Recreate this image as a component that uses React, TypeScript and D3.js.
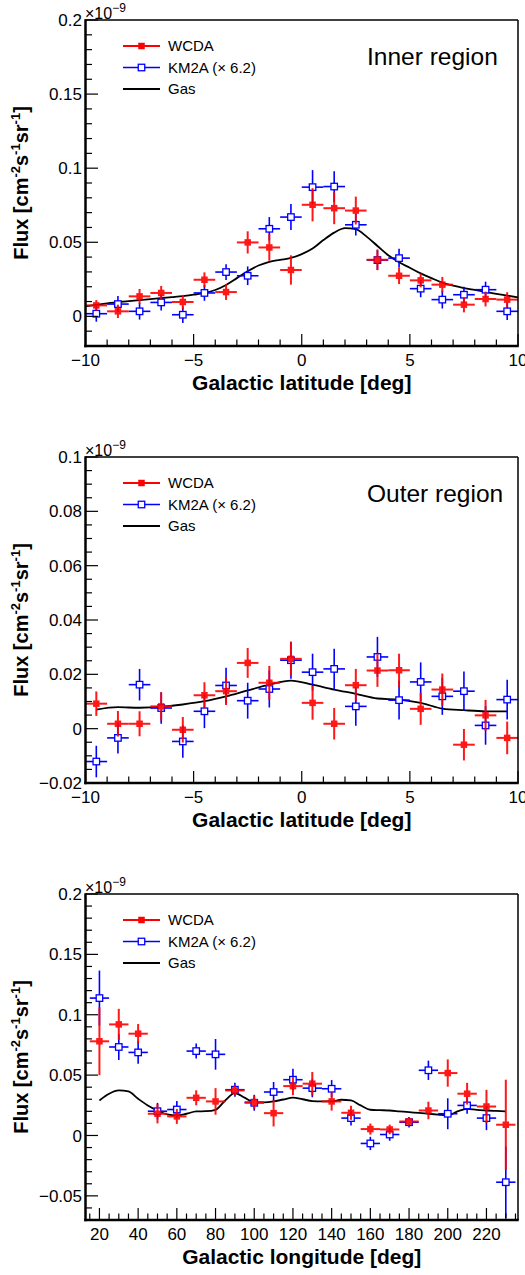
import React from 'react';
import * as d3 from 'd3';

const FONT = "'Liberation Sans', Arial, Helvetica, sans-serif";
const W = 525;
const H = 1275;

// ---------- Data ----------
const latCenters = [-9.5, -8.5, -7.5, -6.5, -5.5, -4.5, -3.5, -2.5, -1.5, -0.5, 0.5, 1.5, 2.5, 3.5, 4.5, 5.5, 6.5, 7.5, 8.5, 9.5];

const innerWcda = [0.0074, 0.0034, 0.0135, 0.0158, 0.0097, 0.0247, 0.0164, 0.0499, 0.0465, 0.0313, 0.0753, 0.073, 0.0714, 0.0382, 0.0274, 0.0243, 0.0214, 0.0079, 0.0117, 0.0113];
const innerWcdaErr = [0.0036, 0.0045, 0.005, 0.0047, 0.0048, 0.005, 0.0053, 0.0075, 0.009, 0.0099, 0.0112, 0.0108, 0.0094, 0.007, 0.0056, 0.0047, 0.0052, 0.0052, 0.005, 0.005];
const innerKm2a = [0.0018, 0.0083, 0.0034, 0.0094, 0.0011, 0.0158, 0.0299, 0.0274, 0.0591, 0.067, 0.0872, 0.0876, 0.0618, 0.038, 0.0393, 0.0187, 0.0113, 0.0146, 0.018, 0.0034];
const innerKm2aErr = [0.0054, 0.0054, 0.0056, 0.0054, 0.0056, 0.0053, 0.0053, 0.0063, 0.0079, 0.0088, 0.0115, 0.0104, 0.0073, 0.0066, 0.0064, 0.0058, 0.006, 0.0054, 0.0054, 0.0058];
const innerGasX = [-10, -9, -8, -7, -6, -5.5, -5, -4.5, -4, -3.5, -3, -2.5, -2, -1.5, -1, -0.5, 0, 0.5, 1, 1.5, 2, 2.5, 3, 3.5, 4, 4.5, 5, 5.5, 6, 6.5, 7, 7.5, 8, 8.5, 9, 9.5, 10];
const innerGas = [0.0067, 0.0088, 0.0103, 0.0117, 0.013, 0.0137, 0.0146, 0.0158, 0.0178, 0.0212, 0.0258, 0.0305, 0.0343, 0.0368, 0.0381, 0.0394, 0.042, 0.0458, 0.0515, 0.0565, 0.0596, 0.0588, 0.0538, 0.0475, 0.0412, 0.0365, 0.0328, 0.029, 0.0258, 0.0228, 0.0207, 0.0191, 0.0178, 0.0165, 0.0152, 0.014, 0.0128];

const outerWcda = [0.0092, 0.0018, 0.0018, 0.0082, -0.0004, 0.0123, 0.0138, 0.0242, 0.0169, 0.0257, 0.0095, 0.0018, 0.016, 0.0214, 0.0215, 0.0073, 0.0144, -0.0059, 0.0049, -0.0034];
const outerWcdaErr = [0.0045, 0.0047, 0.0046, 0.0052, 0.0047, 0.0048, 0.0051, 0.0055, 0.0062, 0.0063, 0.0062, 0.0058, 0.006, 0.006, 0.0061, 0.0059, 0.0059, 0.0058, 0.0057, 0.006];
const outerKm2a = [-0.0121, -0.0034, 0.0162, 0.0076, -0.0047, 0.0064, 0.0159, 0.0103, 0.0146, 0.0252, 0.0208, 0.022, 0.0082, 0.0264, 0.0105, 0.0172, 0.0119, 0.0138, 0.0012, 0.0107];
const outerKm2aErr = [0.0058, 0.0057, 0.0058, 0.0058, 0.006, 0.0062, 0.0065, 0.0066, 0.0068, 0.0068, 0.0068, 0.0074, 0.0071, 0.0074, 0.0071, 0.0072, 0.0068, 0.0072, 0.0071, 0.0073];
const outerGas = [0.007, 0.0079, 0.0077, 0.008, 0.0089, 0.0101, 0.0119, 0.0141, 0.0162, 0.0177, 0.0162, 0.0144, 0.0128, 0.0111, 0.0107, 0.0095, 0.0074, 0.0068, 0.0064, 0.0064];

const lonCenters = [20, 30, 40, 50, 60, 70, 80, 90, 100, 110, 120, 130, 140, 150, 160, 170, 180, 190, 200, 210, 220, 230];
const lonWcda = [0.078, 0.092, 0.0843, 0.018, 0.0158, 0.0312, 0.0282, 0.0373, 0.0276, 0.0185, 0.0409, 0.0429, 0.0282, 0.0188, 0.0053, 0.005, 0.0116, 0.0207, 0.0517, 0.0346, 0.024, 0.0089];
const lonWcdaErr = [0.028, 0.0129, 0.008, 0.008, 0.0062, 0.0062, 0.011, 0.0045, 0.0055, 0.011, 0.0075, 0.0097, 0.0076, 0.0058, 0.0046, 0.004, 0.0035, 0.0073, 0.0113, 0.009, 0.0138, 0.0373];
const lonKm2a = [0.1138, 0.0733, 0.0688, 0.0201, 0.0215, 0.0699, 0.0672, 0.0379, 0.0271, 0.036, 0.0462, 0.0392, 0.0387, 0.0144, -0.0066, 0.0008, 0.011, 0.054, 0.018, 0.0249, 0.0144, -0.0387];
const lonKm2aErr = [0.0228, 0.0108, 0.0094, 0.0069, 0.007, 0.0062, 0.0127, 0.0058, 0.0066, 0.0083, 0.009, 0.0075, 0.0072, 0.0062, 0.0055, 0.0052, 0.0044, 0.008, 0.0128, 0.0069, 0.01, 0.0296];
const lonGasX = [20, 25, 30, 35, 40, 45, 50, 55, 60, 65, 70, 75, 80, 85, 90, 95, 100, 105, 110, 115, 120, 125, 130, 135, 140, 145, 150, 155, 160, 165, 170, 175, 180, 185, 190, 195, 200, 205, 210, 215, 220, 225, 230];
const lonGas = [0.029, 0.0346, 0.0373, 0.0365, 0.0304, 0.0249, 0.0207, 0.0174, 0.0166, 0.018, 0.0199, 0.0201, 0.0213, 0.029, 0.0351, 0.0313, 0.0276, 0.0275, 0.0282, 0.0298, 0.0313, 0.03, 0.0285, 0.0282, 0.0282, 0.0296, 0.029, 0.0249, 0.0213, 0.021, 0.0207, 0.02, 0.0193, 0.0187, 0.018, 0.0173, 0.0166, 0.0199, 0.0221, 0.0212, 0.0207, 0.0203, 0.0199];

// Tick values
const latMajor = [-10, -5, 0, 5, 10];
const lonMajor = [20, 40, 60, 80, 100, 120, 140, 160, 180, 200, 220];
const innerYMajor = [0, 0.05, 0.1, 0.15, 0.2];
const outerYMajor = [-0.02, 0, 0.02, 0.04, 0.06, 0.08, 0.1];
const lonYMajor = [-0.05, 0, 0.05, 0.1, 0.15, 0.2];

const legendLabels = ['WCDA', 'KM2A (× 6.2)', 'Gas'];

const RED = '#ff0000';
const BLUE = '#0000ff';

const fmt = (v: number) => {
  const s = String(+v.toFixed(3));
  return s.startsWith('-') ? '\u2212' + s.slice(1) : s;
};

type PanelProps = {
  top: number;
  xDomain: [number, number];
  yDomain: [number, number];
  xMajor: number[];
  xMinorStep: number;
  yMajor: number[];
  yMinorStep: number;
  xs: number[];
  xErr: number;
  wcda: number[];
  wcdaErr: number[];
  km2a: number[];
  km2aErr: number[];
  gasX: number[];
  gas: number[];
  region?: string;
  xTitle: string;
};

function Panel(p: PanelProps) {
  const left = 85.5;
  const right = 518;
  const top = p.top;
  const bottom = top + 326;
  const x = d3.scaleLinear().domain(p.xDomain).range([left, right]);
  const y = d3.scaleLinear().domain(p.yDomain).range([bottom, top]);

  const xMinor = d3.range(Math.ceil(p.xDomain[0] / p.xMinorStep) * p.xMinorStep, p.xDomain[1] + 1e-9, p.xMinorStep);
  const yMinor = d3.range(Math.ceil(p.yDomain[0] / p.yMinorStep - 1e-9) * p.yMinorStep, p.yDomain[1] + 1e-9, p.yMinorStep);
  const isMajor = (v: number, arr: number[]) => arr.some((m) => Math.abs(m - v) < 1e-6);

  const gasLine = d3
    .line<number>()
    .x((_, i) => x(p.gasX[i]))
    .y((d) => y(d))
    .curve(d3.curveMonotoneX);

  const ms = 6.5;
  const legRows = [top + 26, top + 47.5, top + 69];

  return (
    <g>
      {/* gas line */}
      <path d={gasLine(p.gas) || ''} fill="none" stroke="#000" strokeWidth={1.8} />
      {/* KM2A */}
      {p.xs.map((xv, i) => (
        <g key={'k' + i} stroke={BLUE} strokeWidth={1.6}>
          <line x1={x(xv - p.xErr)} x2={x(xv + p.xErr)} y1={y(p.km2a[i])} y2={y(p.km2a[i])} />
          <line x1={x(xv)} x2={x(xv)} y1={y(p.km2a[i] - p.km2aErr[i])} y2={y(p.km2a[i] + p.km2aErr[i])} />
          <rect x={x(xv) - ms / 2} y={y(p.km2a[i]) - ms / 2} width={ms} height={ms} fill="#fff" strokeWidth={1.3} />
        </g>
      ))}
      {/* WCDA */}
      {p.xs.map((xv, i) => (
        <g key={'w' + i} stroke={RED} strokeWidth={2} opacity={0.9}>
          <line x1={x(xv - p.xErr)} x2={x(xv + p.xErr)} y1={y(p.wcda[i])} y2={y(p.wcda[i])} />
          <line x1={x(xv)} x2={x(xv)} y1={y(p.wcda[i] - p.wcdaErr[i])} y2={y(p.wcda[i] + p.wcdaErr[i])} />
          <rect x={x(xv) - ms / 2} y={y(p.wcda[i]) - ms / 2} width={ms} height={ms} fill={RED} stroke="none" />
        </g>
      ))}

      {/* frame */}
      <line x1={left} x2={right} y1={top} y2={top} stroke="#000" strokeWidth={1.5} />
      <line x1={right} x2={right} y1={top} y2={bottom} stroke="#000" strokeWidth={1.5} />
      <line x1={left} x2={left} y1={top - 0.75} y2={bottom + 1.25} stroke="#000" strokeWidth={2.5} />
      <line x1={left - 1.25} x2={right + 0.75} y1={bottom} y2={bottom} stroke="#000" strokeWidth={2.5} />

      {/* x ticks */}
      {xMinor.map((v, i) => (
        <line key={'xt' + i} x1={x(v)} x2={x(v)} y1={bottom} y2={bottom - (isMajor(v, p.xMajor) ? 12 : 6.5)} stroke="#000" strokeWidth={1.2} />
      ))}
      {p.xMajor.map((v, i) => (
        <text key={'xl' + i} x={x(v)} y={bottom + 19.5} textAnchor="middle" fontSize={17} fontFamily={FONT}>
          {fmt(v)}
        </text>
      ))}
      {/* y ticks */}
      {yMinor.map((v, i) => (
        <line key={'yt' + i} x1={left} x2={left + (isMajor(v, p.yMajor) ? 12.5 : 6.5)} y1={y(v)} y2={y(v)} stroke="#000" strokeWidth={1.2} />
      ))}
      {p.yMajor.map((v, i) => (
        <text key={'yl' + i} x={82} y={y(v)} dy="0.36em" textAnchor="end" fontSize={17} fontFamily={FONT}>
          {fmt(v)}
        </text>
      ))}

      {/* exponent */}
      <text x={85} y={top - 1} fontSize={16} fontFamily={FONT}>
        ×10<tspan dy={-7} fontSize={12}>−9</tspan>
      </text>

      {/* axis titles */}
      <text x={(left + right) / 2} y={bottom + 44} textAnchor="middle" fontSize={21} fontWeight="bold" fontFamily={FONT}>
        {p.xTitle}
      </text>
      <text transform={`translate(28, ${(top + bottom) / 2}) rotate(-90)`} textAnchor="middle" fontSize={20} fontWeight="bold" fontFamily={FONT}>
        Flux [cm<tspan dy={-8} fontSize={13}>-2</tspan>
        <tspan dy={8}>s</tspan>
        <tspan dy={-8} fontSize={13}>-1</tspan>
        <tspan dy={8}>sr</tspan>
        <tspan dy={-8} fontSize={13}>-1</tspan>
        <tspan dy={8}>]</tspan>
      </text>

      {/* region label */}
      {p.region && (
        <text x={367} y={top + 44.5} fontSize={24.5} fontFamily={FONT}>
          {p.region}
        </text>
      )}

      {/* legend */}
      <line x1={123} x2={160} y1={legRows[0]} y2={legRows[0]} stroke={RED} strokeWidth={2} />
      <rect x={141.5 - ms / 2} y={legRows[0] - ms / 2} width={ms} height={ms} fill={RED} />
      <line x1={123} x2={160} y1={legRows[1]} y2={legRows[1]} stroke={BLUE} strokeWidth={1.6} />
      <rect x={141.5 - ms / 2} y={legRows[1] - ms / 2} width={ms} height={ms} fill="#fff" stroke={BLUE} strokeWidth={1.3} />
      <line x1={123} x2={160} y1={legRows[2]} y2={legRows[2]} stroke="#000" strokeWidth={1.8} />
      {legendLabels.map((t, i) => (
        <text key={'lg' + i} x={168} y={legRows[i]} dy="0.36em" fontSize={15} fontFamily={FONT}>
          {t}
        </text>
      ))}
    </g>
  );
}

export default function App() {
  return (
    <svg width={W} height={H} style={{ position: 'absolute', left: 0, top: 0, background: '#fff' }}>
      <rect x={0} y={0} width={W} height={H} fill="#fff" />
      <Panel
        top={20}
        xDomain={[-10, 10]}
        yDomain={[-0.02, 0.2]}
        xMajor={latMajor}
        xMinorStep={1}
        yMajor={innerYMajor}
        yMinorStep={0.01}
        xs={latCenters}
        xErr={0.5}
        wcda={innerWcda}
        wcdaErr={innerWcdaErr}
        km2a={innerKm2a}
        km2aErr={innerKm2aErr}
        gasX={innerGasX}
        gas={innerGas}
        region="Inner region"
        xTitle="Galactic latitude [deg]"
      />
      <Panel
        top={457}
        xDomain={[-10, 10]}
        yDomain={[-0.02, 0.1]}
        xMajor={latMajor}
        xMinorStep={1}
        yMajor={outerYMajor}
        yMinorStep={0.005}
        xs={latCenters}
        xErr={0.5}
        wcda={outerWcda}
        wcdaErr={outerWcdaErr}
        km2a={outerKm2a}
        km2aErr={outerKm2aErr}
        gasX={latCenters}
        gas={outerGas}
        region="Outer region"
        xTitle="Galactic latitude [deg]"
      />
      <Panel
        top={894}
        xDomain={[12.8, 236.3]}
        yDomain={[-0.07, 0.2]}
        xMajor={lonMajor}
        xMinorStep={5}
        yMajor={lonYMajor}
        yMinorStep={0.01}
        xs={lonCenters}
        xErr={5}
        wcda={lonWcda}
        wcdaErr={lonWcdaErr}
        km2a={lonKm2a}
        km2aErr={lonKm2aErr}
        gasX={lonGasX}
        gas={lonGas}
        xTitle="Galactic longitude [deg]"
      />
    </svg>
  );
}
